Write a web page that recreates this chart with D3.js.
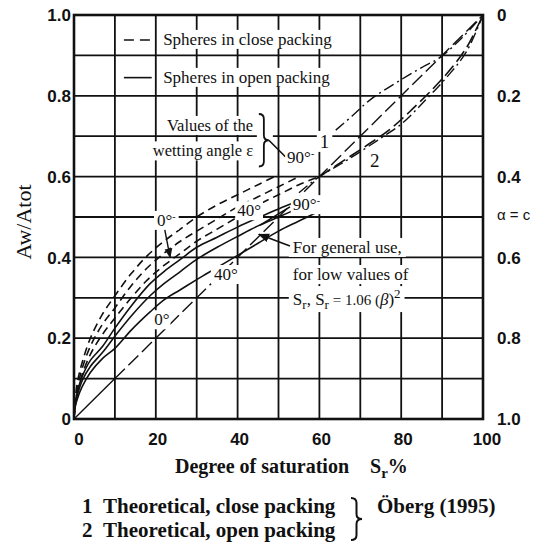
<!DOCTYPE html>
<html lang="en">
<head>
<meta charset="UTF-8">
<title>Aw/Atot against degree of saturation</title>
<script src="https://d3js.org/d3.v7.min.js"></script>
<style>
  body { margin: 0; background: #fff; }
  svg { display: block; }
  .serif { font-family: "Liberation Serif", "Times New Roman", serif; fill: #111; }
  .sans { font-family: "Liberation Sans", Arial, sans-serif; fill: #111; font-weight: bold; }
</style>
</head>
<body>
<svg id="chart"></svg>
<script>
// [Sr %, Aw/Atot] pairs
const close0 = [[0,0],[0.3,0.05],[1,0.1],[2,0.14],[4,0.2],[7,0.26],[10,0.305],[14,0.36],[18,0.405],[22,0.44],[26,0.47],[30,0.5],[35,0.53],[40,0.555],[45,0.58],[50,0.605]];
const close40 = [[0,0],[0.3,0.04],[1,0.085],[2,0.125],[4,0.18],[7,0.235],[10,0.275],[14,0.33],[18,0.375],[22,0.41],[26,0.44],[30,0.465],[35,0.495],[40,0.525],[45,0.55],[50,0.575],[55,0.6]];
const close90 = [[0,0],[0.3,0.035],[1,0.075],[2,0.11],[4,0.16],[7,0.21],[10,0.25],[14,0.3],[18,0.345],[22,0.38],[26,0.41],[30,0.44],[35,0.47],[40,0.5],[45,0.53],[50,0.555],[55,0.58],[60,0.6]];
const close90High = [[60,0.6],[66,0.64],[72,0.68],[77,0.715],[82,0.76],[88,0.82],[92,0.865],[96,0.92],[100,1.0]];
const open0 = [[0,0],[0.3,0.04],[1,0.075],[2,0.105],[4,0.145],[7,0.18],[10,0.225],[14,0.28],[18.6,0.335],[22,0.365],[26,0.395],[30,0.425],[35,0.45],[40,0.475],[45,0.498],[50,0.52],[55,0.54]];
const open40 = [[0,0],[0.3,0.035],[1,0.065],[2,0.095],[4,0.13],[7,0.165],[10,0.205],[14,0.255],[18.6,0.305],[22,0.335],[26,0.365],[30,0.395],[35,0.425],[40,0.452],[45,0.478],[50,0.5],[55,0.522]];
const open90 = [[0,0],[0.3,0.03],[1,0.055],[2,0.08],[4,0.115],[7,0.15],[10,0.175],[14,0.22],[18.6,0.265],[22,0.295],[26,0.32],[30,0.345],[32.5,0.36],[40,0.405],[45,0.435],[50,0.465],[55,0.49],[60,0.515]];
const diagonalLow = [[0,0],[10,0.1]];
const diagonalHigh = [[10,0.1],[100,1.0]];
const theory1 = [[64,0.715],[68,0.75],[72.4,0.79],[80,0.84],[85,0.87],[89.5,0.895],[95,0.945],[100,1.0]];
const theory2 = [[55,0.56],[60,0.6],[65,0.63],[69,0.655],[75,0.695],[80,0.73],[86,0.79],[92,0.856],[96,0.91],[100,1.0]];

const xTicks = [0, 20, 40, 60, 80, 100];
const yTicks = [0, 0.2, 0.4, 0.6, 0.8, 1.0];
const yTickLabels = ["0", "0.2", "0.4", "0.6", "0.8", "1.0"];
const alphaLabels = ["1.0", "0.8", "0.6", "0.4", "0.2", "0"];

const width = 541, height = 545;
const svg = d3.select("#chart").attr("width", width).attr("height", height);
const x = d3.scaleLinear().domain([0, 100]).range([74, 483]);
const y = d3.scaleLinear().domain([0, 1]).range([419, 15]);

svg.append("defs").append("marker")
  .attr("id", "arrow").attr("viewBox", "0 0 10 10").attr("refX", 9).attr("refY", 5)
  .attr("markerWidth", 7).attr("markerHeight", 7).attr("orient", "auto")
  .append("path").attr("d", "M0,1 L10,5 L0,9 Z").attr("fill", "#111");

// grid
const grid = svg.append("g").attr("stroke", "#111").attr("stroke-width", 1.8);
grid.selectAll(".vx").data(d3.range(10, 100, 10)).enter().append("line")
  .attr("x1", d => x(d)).attr("x2", d => x(d)).attr("y1", y(0)).attr("y2", y(1));
grid.selectAll(".hy").data(d3.range(1, 10).map(d => d / 10)).enter().append("line")
  .attr("x1", x(0)).attr("x2", x(100)).attr("y1", d => y(d)).attr("y2", d => y(d));

// curves
const line = d3.line().x(d => x(d[0])).y(d => y(d[1])).curve(d3.curveCatmullRom);
const curves = svg.append("g").attr("fill", "none").attr("stroke", "#111").attr("stroke-width", 1.6);
function curve(data, dash, w) {
  curves.append("path").attr("d", line(data))
    .attr("stroke-dasharray", dash || null)
    .attr("stroke-width", w || 1.6);
}
curve(close0, "8,5");
curve(close40, "8,5");
curve(close90, "8,5");
curve(close90High, "13,5");
curve(open0);
curve(open40);
curve(open90);
curve(diagonalLow, null, 1.4);
curve(diagonalHigh, "14,5", 1.4);
curve(theory1, "11,4,2,4", 1.4);
curve(theory2, "11,4,2,4", 1.4);

// frame
svg.append("rect").attr("x", x(0)).attr("y", y(1))
  .attr("width", x(100) - x(0)).attr("height", y(0) - y(1))
  .attr("fill", "none").attr("stroke", "#111").attr("stroke-width", 2.6);

// labels sitting on white patches
const labels = svg.append("g");
function label(sx, sv, size, build, pad) {
  const g = labels.append("g");
  const t = g.append("text").attr("class", "serif")
    .attr("x", x(sx)).attr("y", y(sv)).style("font-size", size + "px");
  build(t);
  const b = t.node().getBBox();
  const p = pad == null ? 3 : pad;
  g.insert("rect", "text").attr("x", b.x - p).attr("y", b.y)
    .attr("width", b.width + 2 * p).attr("height", b.height).attr("fill", "#fff");
  return t;
}
function deg(t, n) {
  t.append("tspan").text(n + "°");
  t.append("tspan").text("-").attr("dy", -6).style("font-size", "10px");
}

label(21.8, 0.926, 17, t => t.text("Spheres in close packing"), 4);
label(21.8, 0.832, 17, t => t.text("Spheres in open packing"), 4);
labels.append("line").attr("x1", x(12.2)).attr("x2", x(18.6)).attr("y1", y(0.938)).attr("y2", y(0.938))
  .attr("stroke", "#111").attr("stroke-width", 1.6).attr("stroke-dasharray", "10,6");
labels.append("line").attr("x1", x(12.2)).attr("x2", x(19)).attr("y1", y(0.845)).attr("y2", y(0.845))
  .attr("stroke", "#111").attr("stroke-width", 1.6);

label(43.8, 0.713, 16.5, t => t.text("Values of the").attr("text-anchor", "end"), 3);
label(43.8, 0.65, 16.5, t => t.text("wetting angle ε").attr("text-anchor", "end"), 3);

// brace
const bx = x(45.2), by0 = y(0.755), by1 = y(0.625), bw = 10, bm = (by0 + by1) / 2;
labels.append("rect").attr("x", bx - 2).attr("y", by0 - 2).attr("width", bw + 6).attr("height", by1 - by0 + 4).attr("fill", "#fff");
function brace(px, y0, y1, w) {
  const m = (y0 + y1) / 2, h = w / 2, c = 5;
  return `M${px},${y0} Q${px + h},${y0} ${px + h},${y0 + c} L${px + h},${m - c} Q${px + h},${m} ${px + w},${m} ` +
    `Q${px + h},${m} ${px + h},${m + c} L${px + h},${y1 - c} Q${px + h},${y1} ${px},${y1}`;
}
labels.append("path").attr("d", brace(bx, by0, by1, bw)).attr("fill", "none").attr("stroke", "#111").attr("stroke-width", 1.8);
labels.append("line").attr("x1", bx + bw).attr("y1", bm).attr("x2", x(51.8)).attr("y2", y(0.648))
  .attr("stroke", "#111").attr("stroke-width", 1.6);

label(52.1, 0.634, 17, t => deg(t, 90), 2);
label(60.1, 0.671, 19, t => t.text("1"), 3);
label(72.4, 0.624, 19, t => t.text("2"), 3);
label(53.5, 0.517, 17, t => deg(t, 90), 2);
labels.append("line").attr("x1", x(45.5)).attr("y1", y(0.48)).attr("x2", x(52.8)).attr("y2", y(0.525))
  .attr("stroke", "#111").attr("stroke-width", 1.6);

label(20.3, 0.478, 17, t => deg(t, 0), 3);
labels.append("line").attr("x1", x(22.2)).attr("y1", y(0.468)).attr("x2", x(23.5)).attr("y2", y(0.4))
  .attr("stroke", "#111").attr("stroke-width", 1.4).attr("marker-end", "url(#arrow)");

label(39.9, 0.502, 17, t => t.text("40°"), 2);
label(34.2, 0.344, 17, t => t.text("40°"), 3);
label(19.6, 0.232, 17, t => t.text("0°"), 1);

label(53.5, 0.411, 17, t => t.text("For general use,"), 4);
label(53.5, 0.344, 17, t => t.text("for low values of"), 4);
label(53.5, 0.282, 17, t => {
  t.append("tspan").text("S");
  t.append("tspan").text("r").attr("dy", 4).style("font-size", "13px");
  t.append("tspan").text(", S").attr("dy", -4);
  t.append("tspan").text("r").attr("dy", 4).style("font-size", "13px");
  t.append("tspan").text(" = 1.06 (").attr("dy", -4).style("font-size", "15px");
  t.append("tspan").text("β").style("font-style", "italic");
  t.append("tspan").text(")");
  t.append("tspan").text("2").attr("dy", -7).style("font-size", "13px");
}, 4);
labels.append("line").attr("x1", x(52.8)).attr("y1", y(0.428)).attr("x2", x(45.2)).attr("y2", y(0.457))
  .attr("stroke", "#111").attr("stroke-width", 1.6).attr("marker-end", "url(#arrow)");

// axes text
svg.append("g").selectAll("text").data(yTicks).enter().append("text")
  .attr("class", "sans").attr("x", 71).attr("y", d => y(d)).attr("dy", "0.36em")
  .attr("text-anchor", "end").style("font-size", "17px")
  .text((d, i) => yTickLabels[i]);
svg.append("g").selectAll("text").data(yTicks).enter().append("text")
  .attr("class", "sans").attr("x", 497).attr("y", d => y(d)).attr("dy", "0.36em")
  .style("font-size", "17px")
  .text((d, i) => alphaLabels[i]);
svg.append("text").attr("class", "sans").attr("x", 497).attr("y", y(0.505)).attr("dy", "0.36em")
  .style("font-size", "15px").style("font-weight", "normal").text("α = c");
svg.append("g").selectAll("text").data(xTicks).enter().append("text")
  .attr("class", "sans").attr("x", d => x(d) + (d === 0 ? 5 : d === 100 ? 4 : 2)).attr("y", 445)
  .attr("text-anchor", "middle").style("font-size", "17px")
  .text(d => d);

const xt = svg.append("text").attr("class", "serif").attr("x", 175).attr("y", 473)
  .style("font-size", "20px").style("font-weight", "bold");
xt.append("tspan").text("Degree of saturation");
xt.append("tspan").attr("x", 370).text("S");
xt.append("tspan").text("r").attr("dy", 5).style("font-size", "15px");
xt.append("tspan").text("%").attr("dy", -5);

svg.append("text").attr("class", "serif")
  .attr("transform", `translate(31,222) rotate(-90)`).attr("text-anchor", "middle")
  .style("font-size", "22px").text("Aw/Atot");

// footnote
const foot = svg.append("g").attr("class", "serif").style("font-size", "21px").style("font-weight", "bold");
foot.append("text").attr("x", 82).attr("y", 513).text("1");
foot.append("text").attr("x", 103).attr("y", 513).text("Theoretical, close packing");
foot.append("text").attr("x", 82).attr("y", 537).text("2");
foot.append("text").attr("x", 103).attr("y", 537).text("Theoretical, open packing");
foot.append("text").attr("x", 377).attr("y", 513).text("Öberg (1995)");
svg.append("path").attr("d", brace(351, 498, 540, 11)).attr("fill", "none").attr("stroke", "#111").attr("stroke-width", 2);
</script>
</body>
</html>
